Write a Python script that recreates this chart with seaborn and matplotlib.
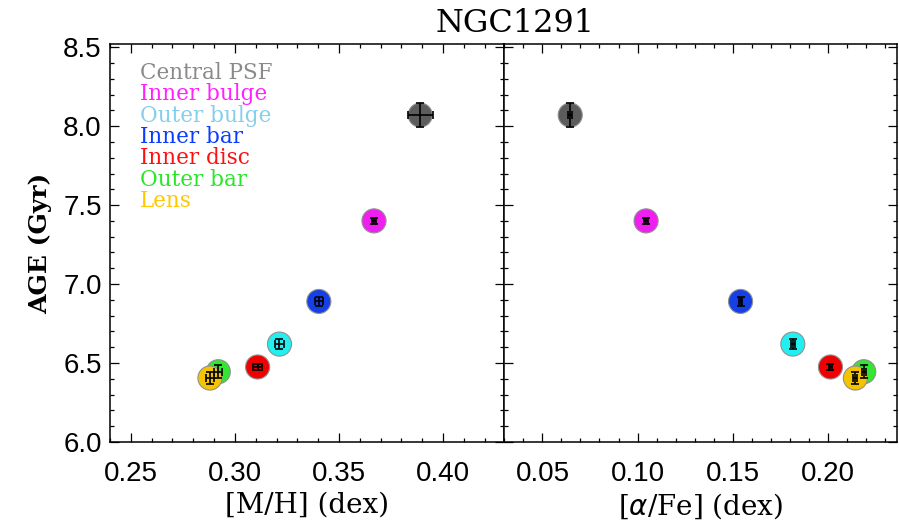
#!/usr/bin/env python
import pandas as pd
import matplotlib
matplotlib.use('Agg')
import matplotlib.pyplot as plt
from matplotlib.ticker import MultipleLocator
import seaborn as sns

regions = ['Central PSF', 'Inner bulge', 'Outer bulge', 'Inner bar', 'Inner disc', 'Outer bar', 'Lens']
age = [8.07, 7.40, 6.62, 6.89, 6.475, 6.445, 6.405]
age_err = [0.075, 0.02, 0.03, 0.03, 0.02, 0.04, 0.04]
mh = [0.389, 0.3668, 0.3214, 0.3403, 0.3109, 0.2920, 0.2880]
mh_err = [0.006, 0.001, 0.002, 0.002, 0.002, 0.002, 0.002]
afe = [0.0646, 0.1045, 0.1817, 0.1542, 0.2015, 0.2190, 0.2146]
afe_err = [0.001, 0.001, 0.001, 0.001, 0.001, 0.001, 0.001]

dot_colors = ['#5c5c5c', '#f01ef0', '#22f0f0', '#1440e6', '#f00000', '#32e632', '#f5c400']
text_colors = ['#8a8a8a', '#ff22ff', '#87ceeb', '#0a3cff', '#ff1010', '#28e628', '#ffc800']

df = pd.DataFrame({'region': regions, 'age': age, 'age_err': age_err,
                   'mh': mh, 'mh_err': mh_err, 'afe': afe, 'afe_err': afe_err})

sns.set_style('ticks')
plt.rcParams['font.family'] = ['Liberation Sans', 'DejaVu Sans']
plt.rcParams.update({'axes.linewidth': 1.1, 'axes.edgecolor': 'black',
                     'xtick.color': 'black', 'ytick.color': 'black',
                     'text.color': 'black', 'axes.labelcolor': 'black'})

fig = plt.figure(figsize=(8.99, 5.23), dpi=100)
gs = fig.add_gridspec(1, 2, left=110/899, right=897/899, bottom=81/523, top=1-44/523, wspace=0)
ax1 = fig.add_subplot(gs[0, 0])
ax2 = fig.add_subplot(gs[0, 1])

palette = dict(zip(regions, dot_colors))
for ax, col, err in [(ax1, 'mh', 'mh_err'), (ax2, 'afe', 'afe_err')]:
    sns.scatterplot(data=df, x=col, y='age', hue='region', palette=palette, s=300,
                    edgecolor='#909090', linewidth=0.8, legend=False, ax=ax, zorder=3)
    ax.errorbar(df[col], df['age'], xerr=df[err], yerr=df['age_err'], fmt='none',
                ecolor='black', elinewidth=1.2, capsize=3, capthick=1.2, zorder=4)
    ax.set_ylim(6.0, 8.52)
    ax.yaxis.set_major_locator(MultipleLocator(0.5))
    ax.yaxis.set_minor_locator(MultipleLocator(0.1))
    ax.xaxis.set_major_locator(MultipleLocator(0.05))
    ax.xaxis.set_minor_locator(MultipleLocator(0.01))
    ax.tick_params(which='both', direction='in', top=True, right=True, width=0.9)
    ax.tick_params(which='major', length=6.5)
    ax.tick_params(which='minor', length=3.2)
    ax.tick_params(axis='x', labelsize=20, pad=14)
    ax.tick_params(axis='y', labelsize=20, pad=6)

ax1.set_xlim(0.24, 0.429)
ax2.set_xlim(0.0295, 0.2365)
ax1.set_xticks([0.25, 0.30, 0.35, 0.40])
ax1.set_xticklabels(['0.25', '0.30', '0.35', '0.40'])
ax2.set_xticks([0.05, 0.10, 0.15, 0.20])
ax2.set_xticklabels(['0.05', '0.10', '0.15', '0.20'])
ax1.set_yticks([6.0, 6.5, 7.0, 7.5, 8.0, 8.5])
ax1.set_yticklabels(['6.0', '6.5', '7.0', '7.5', '8.0', '8.5'])
ax2.tick_params(axis='y', labelleft=False)

ax1.set_xlabel('[M/H] (dex)', family='DejaVu Serif', fontsize=20, labelpad=3)
ax2.set_xlabel(r'[$\alpha$/Fe] (dex)', family='DejaVu Serif', fontsize=20, labelpad=3)
ax1.set_ylabel('AGE (Gyr)', family='DejaVu Serif', fontsize=18, fontweight='bold', labelpad=8)
ax2.set_ylabel('')

for i, (name, c) in enumerate(zip(regions, text_colors)):
    ax1.text(0.075, 0.927 - i * 0.0535, name, color=c, transform=ax1.transAxes,
             family='DejaVu Serif', fontsize=15.5, va='center', ha='left')

fig.text(515/899, 1 - 24/523, 'NGC1291', family='DejaVu Serif', fontsize=23,
         ha='center', va='center')

plt.savefig('out.png', dpi=100)
